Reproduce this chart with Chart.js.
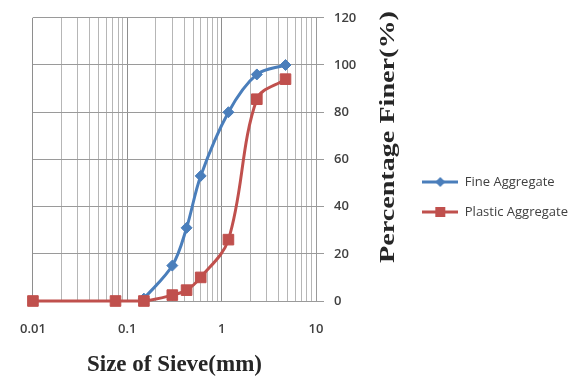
<!DOCTYPE html>
<html lang="en">
<head>
  <meta charset="utf-8" />
  <title>Sieve Analysis - Fine vs Plastic Aggregate</title>
  <style>
    body { margin: 0; background: #fff; }
    #wrap { width: 580px; height: 381px; }
  </style>
</head>
<body>
  <div id="wrap"><canvas id="sieveChart"></canvas></div>

  <script src="https://cdn.jsdelivr.net/npm/chart.js@4.4.4/dist/chart.umd.min.js"></script>
  <script>
    // sieve sizes (mm) and percentage finer
    const fineSize = [0.15, 0.3, 0.425, 0.6, 1.18, 2.36, 4.75];
    const finePct = [1, 15, 31, 53, 80, 96, 100];
    const plasticSize = [0.01, 0.075, 0.15, 0.3, 0.425, 0.6, 1.18, 2.36, 4.75];
    const plasticPct = [0, 0, 0, 2.5, 4.6, 10, 26, 85.5, 94];

    const xTickLabels = [0.01, 0.1, 1, 10];
    const yTicks = [0, 20, 40, 60, 80, 100, 120];

    const BLUE = '#4a7ebb';
    const RED = '#c0504d';
    const TEXT = '#404040';
    const PAD_RIGHT = 2;

    // log grid: 1..9 for every decade between 0.01 and 10
    const xGrid = [];
    for (let e = -2; e <= 0; e++) {
      for (let m = 1; m <= 9; m++) xGrid.push(Number((m * Math.pow(10, e)).toPrecision(6)));
    }
    xGrid.push(10);

    // legend icon: line with the marker in the middle, like Excel
    function legendIcon(color, shape) {
      const c = document.createElement('canvas');
      c.width = 36; c.height = 14;
      const g = c.getContext('2d');
      g.strokeStyle = color;
      g.fillStyle = color;
      g.lineWidth = 3;
      g.beginPath(); g.moveTo(0, 7); g.lineTo(36, 7); g.stroke();
      g.beginPath();
      if (shape === 'diamond') {
        g.moveTo(18, 2); g.lineTo(23, 7); g.lineTo(18, 12); g.lineTo(13, 7);
      } else {
        g.rect(13, 2, 10, 10);
      }
      g.closePath(); g.fill();
      return c;
    }
    const legendIcons = [legendIcon(BLUE, 'diamond'), legendIcon(RED, 'square')];

    // right-hand axis title reads bottom to top
    const yTitle = {
      id: 'yTitle',
      afterDraw(chart) {
        const ctx = chart.ctx;
        const s = chart.scales.y;
        const text = 'Percentage Finer(%)';
        ctx.save();
        ctx.translate(s.left + 72, 137);
        ctx.rotate(-Math.PI / 2);
        ctx.font = 'bold 22px "Liberation Serif"';
        const w = ctx.measureText(text).width;
        ctx.scale(252 / w, 1);
        ctx.fillStyle = '#262626';
        ctx.textAlign = 'center';
        ctx.textBaseline = 'middle';
        ctx.fillText(text, 0, 0);
        ctx.restore();
      }
    };

    const tickFont = { family: 'Open Sans', size: 13, weight: '600' };

    new Chart(document.getElementById('sieveChart'), {
      type: 'line',
      data: {
        datasets: [
          {
            label: 'Fine Aggregate',
            data: fineSize.map((s, i) => ({ x: s, y: finePct[i] })),
            borderColor: BLUE,
            backgroundColor: BLUE,
            borderWidth: 3,
            pointStyle: 'rectRot',
            pointRadius: 5.5,
            pointBorderWidth: 1,
            tension: 0.35,
            clip: false,
            order: 1
          },
          {
            label: 'Plastic Aggregate',
            data: plasticSize.map((s, i) => ({ x: s, y: plasticPct[i] })),
            borderColor: RED,
            backgroundColor: RED,
            borderWidth: 3,
            pointStyle: 'rect',
            pointRadius: 7.5,
            pointBorderWidth: 1,
            tension: 0.35,
            clip: false,
            order: 0
          }
        ]
      },
      options: {
        responsive: true,
        maintainAspectRatio: false,
        animation: false,
        layout: { padding: { left: 26, top: 13, right: PAD_RIGHT, bottom: 0 } },
        plugins: {
          tooltip: { enabled: false },
          legend: {
            position: 'right',
            maxWidth: 260,
            labels: {
              usePointStyle: true,
              pointStyleWidth: 36,
              boxHeight: 13,
              padding: 17,
              color: TEXT,
              font: { family: 'Open Sans', size: 13 },
              generateLabels: chart => chart.data.datasets.map((ds, i) => ({
                text: ds.label,
                pointStyle: legendIcons[i],
                fillStyle: ds.borderColor,
                strokeStyle: ds.borderColor,
                lineWidth: 0,
                fontColor: TEXT,
                hidden: false,
                datasetIndex: i
              }))
            }
          }
        },
        scales: {
          x: {
            type: 'logarithmic',
            min: 0.01,
            max: 10,
            afterBuildTicks: s => { s.ticks = xGrid.map(v => ({ value: v })); },
            afterFit: s => { s.height = 80; },
            grid: {
              drawTicks: false,
              color: c => xTickLabels.includes(c.tick && c.tick.value) ? '#8e8e8e' : '#b6b6b6'
            },
            border: { color: '#9a9a9a' },
            ticks: {
              autoSkip: false,
              maxRotation: 0,
              padding: 20,
              color: TEXT,
              font: tickFont,
              callback: v => xTickLabels.includes(v) ? String(v) : ''
            },
            title: {
              display: true,
              text: 'Size of Sieve(mm)',
              color: '#262626',
              font: { family: 'Liberation Serif', size: 23, weight: 'bold' },
              padding: { top: 0, bottom: 2 }
            }
          },
          y: {
            position: 'right',
            min: 0,
            max: 120,
            afterBuildTicks: s => { s.ticks = yTicks.map(v => ({ value: v })); },
            afterFit: s => { s.width = s.chart.width - PAD_RIGHT - 316 - s.chart.legend.width; },
            grid: { color: '#9a9a9a', tickLength: 8 },
            border: { color: '#9a9a9a' },
            ticks: { padding: 10, color: TEXT, font: tickFont }
          }
        }
      },
      plugins: [yTitle]
    });
  </script>
</body>
</html>
